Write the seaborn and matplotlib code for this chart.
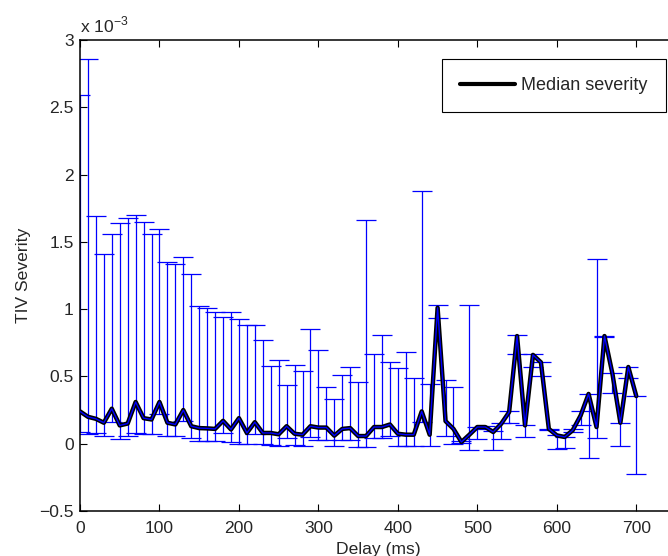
import numpy as np
import pandas as pd
import matplotlib
matplotlib.use("Agg")
import matplotlib.pyplot as plt
import seaborn as sns
from matplotlib.ticker import FixedLocator, FuncFormatter

# Delay (ms)
delay = list(range(0, 701, 10))

# Median severity (units of 1e-3)
median = [0.24, 0.20, 0.185, 0.156, 0.26, 0.136, 0.15, 0.31, 0.19, 0.18,
          0.31, 0.156, 0.143, 0.25, 0.13, 0.116, 0.114, 0.11, 0.17, 0.106,
          0.19, 0.08, 0.16, 0.08, 0.08, 0.07, 0.13, 0.074, 0.067, 0.13,
          0.12, 0.12, 0.06, 0.11, 0.116, 0.057, 0.057, 0.124, 0.124, 0.143,
          0.074, 0.067, 0.067, 0.24, 0.067, 1.01, 0.168, 0.11, 0.013, 0.067,
          0.124, 0.124, 0.087, 0.148, 0.235, 0.80, 0.136, 0.66, 0.605, 0.11,
          0.062, 0.05, 0.10, 0.21, 0.37, 0.124, 0.80, 0.52, 0.156, 0.57,
          0.354]

# Upper end of error bars (units of 1e-3)
upper = [2.59, 2.86, 1.69, 1.41, 1.56, 1.64, 1.68, 1.70, 1.65, 1.56,
         1.595, 1.35, 1.335, 1.39, 1.26, 1.02, 1.01, 0.98, 0.945, 0.98,
         0.93, 0.885, 0.88, 0.77, 0.58, 0.62, 0.44, 0.585, 0.54, 0.85,
         0.70, 0.42, 0.33, 0.51, 0.57, 0.46, 1.66, 0.67, 0.81, 0.61,
         0.56, 0.68, 0.49, 1.88, 0.445, 1.03, 0.47, 0.425, 0.02, 1.03,
         0.124, 0.13, 0.094, 0.153, 0.24, 0.81, 0.14, 0.665, 0.605, 0.11,
         0.062, 0.05, 0.106, 0.24, 0.37, 1.37, 0.80, 0.527, 0.156, 0.57,
         0.354]

# Lower end of error bars (units of 1e-3)
lower = [0.09, 0.074, 0.08, 0.057, 0.16, 0.037, 0.057, 0.08, 0.074, 0.074,
         0.22, 0.06, 0.054, 0.17, 0.04, 0.022, 0.02, 0.017, 0.08, 0.012,
         -0.005, -0.005, 0.074, -0.005, -0.01, -0.015, 0.04, -0.012, -0.02, 0.05,
         0.03, 0.03, -0.02, 0.025, 0.03, -0.025, -0.025, 0.04, 0.04, 0.054,
         -0.02, -0.02, -0.02, 0.16, -0.017, 0.935, 0.06, -0.005, 0.005, -0.045,
         0.037, 0.11, -0.045, 0.037, 0.153, 0.665, 0.05, 0.57, 0.50, 0.10,
         -0.037, -0.03, 0.09, 0.14, -0.104, 0.042, 0.79, 0.378, -0.017, 0.49,
         -0.228]

yticks = [-0.5, 0, 0.5, 1, 1.5, 2, 2.5, 3]
xticks = [0, 100, 200, 300, 400, 500, 600, 700]

df = pd.DataFrame({"delay": delay, "median": median, "upper": upper, "lower": lower})

sns.set_style("ticks")
plt.rcParams["font.family"] = ["Liberation Sans", "DejaVu Sans"]
plt.rcParams["xtick.direction"] = "in"
plt.rcParams["ytick.direction"] = "in"

FS = 12.6
fig = plt.figure(figsize=(6.68, 5.56), dpi=100)
W, H = 668, 556
left, right, top, bottom = 80, 676, 40, 511
ax = fig.add_axes([left / W, 1 - bottom / H, (right - left) / W, (bottom - top) / H])

med = np.array(median)
yerr = np.vstack([np.clip(med - np.array(lower), 0, None),
                  np.clip(np.array(upper) - med, 0, None)])
ax.errorbar(df["delay"], df["median"], yerr=yerr, fmt="none", ecolor="#0000ff",
            elinewidth=0.9, capsize=7, capthick=0.9, zorder=2)
sns.lineplot(data=df, x="delay", y="median", ax=ax, color="black", linewidth=3.2,
             label="Median severity", zorder=3)
sns.lineplot(data=df, x="delay", y="median", ax=ax, color="#0000ff", linewidth=1.0,
             legend=False, zorder=4)

ax.set_xlim(0, 750)
ax.set_ylim(-0.5, 3)
ax.xaxis.set_major_locator(FixedLocator(xticks))
ax.yaxis.set_major_locator(FixedLocator(yticks))
ax.yaxis.set_major_formatter(FuncFormatter(lambda v, p: ("%g" % v).replace("-", "\u2212")))
ax.tick_params(axis="both", which="major", labelsize=FS, length=5, width=0.8,
               top=True, right=True, color="black")
ax.tick_params(axis="x", pad=7.5)
ax.tick_params(axis="y", pad=4.5)
for s in ax.spines.values():
    s.set_linewidth(1.1)
    s.set_color("black")

ax.set_xlabel("Delay (ms)", fontsize=FS, labelpad=4)
ax.set_ylabel("TIV Severity", fontsize=FS, labelpad=6)
ax.text(0, 1.01, "x 10$^{\\mathregular{-3}}$", transform=ax.transAxes,
        fontsize=FS, ha="left", va="bottom")

leg = ax.legend(loc="upper left", bbox_to_anchor=(442 / W, 1 - 59 / H),
                bbox_transform=fig.transFigure, fontsize=13, frameon=True,
                fancybox=False, framealpha=1, edgecolor="black", borderpad=1.0,
                handlelength=3.05, handletextpad=0.35, borderaxespad=0)
leg.get_frame().set_linewidth(0.8)
for h in leg.get_lines():
    h.set_linewidth(3)

fig.savefig("out.png", dpi=100)
